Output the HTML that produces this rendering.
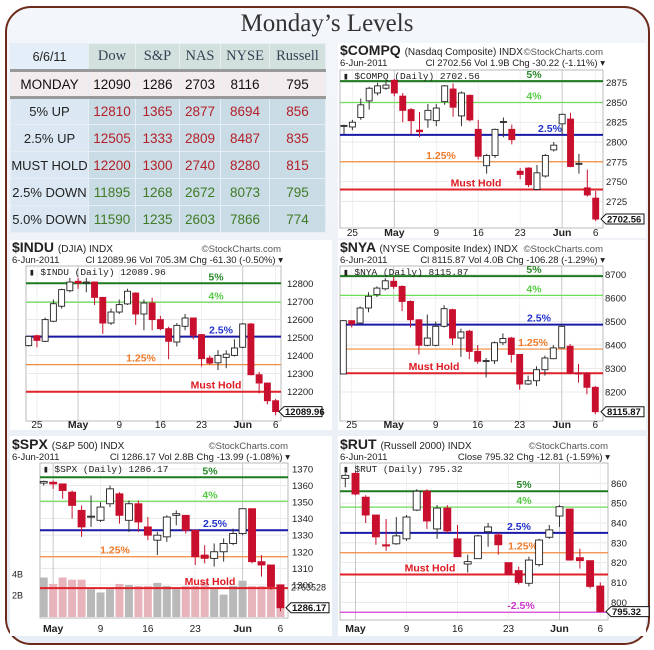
<!DOCTYPE html>
<html><head><meta charset="utf-8">
<style>
*{margin:0;padding:0;box-sizing:border-box}
body{width:654px;height:650px;background:#fff;position:relative;overflow:hidden;font-family:"Liberation Sans",sans-serif}
#frame{position:absolute;left:5px;top:6px;width:645px;height:639px;border:2px solid #6b2a1a;border-radius:26px;background:linear-gradient(#f3f6fa,#e8eef5)}
#title{position:absolute;left:0;top:10px;width:654px;text-align:center;font-family:"Liberation Serif",serif;font-size:25px;color:#333}
table{position:absolute;left:10px;top:43px;border-collapse:collapse;font-size:13.5px;width:316px}
td{text-align:center;border:1px solid #e6eef4;height:27px;padding:0}
.h td{background:#d3e1de;font-family:"Liberation Serif",serif;font-size:14.5px;color:#345}
.h td.c0{background:#e3eef8;font-family:"Liberation Sans",sans-serif;font-size:12.5px;color:#222}
.m td{background:#f3ecef;color:#111;border-top:3px solid #999;border-bottom:3px solid #999}
.r td{background:#c9dbe4}
.r td.c0{background:#dbe8f4;color:#222;font-size:13px}
.up{color:#b3202a}.dn{color:#3f7a25}
svg{position:absolute;left:0;top:0}
</style></head><body>
<div id="frame"></div>
<div id="title">Monday’s Levels</div>
<table>
<tr class="h"><td class="c0" style="width:78px">6/6/11</td><td style="width:47px">Dow</td><td style="width:44px">S&amp;P</td><td style="width:41px">NAS</td><td style="width:49px">NYSE</td><td>Russell</td></tr>
<tr class="m"><td>MONDAY</td><td>12090</td><td>1286</td><td>2703</td><td>8116</td><td>795</td></tr>
<tr class="r"><td class="c0">5% UP</td><td class="up">12810</td><td class="up">1365</td><td class="up">2877</td><td class="up">8694</td><td class="up">856</td></tr>
<tr class="r"><td class="c0">2.5% UP</td><td class="up">12505</td><td class="up">1333</td><td class="up">2809</td><td class="up">8487</td><td class="up">835</td></tr>
<tr class="r"><td class="c0">MUST HOLD</td><td class="up">12200</td><td class="up">1300</td><td class="up">2740</td><td class="up">8280</td><td class="up">815</td></tr>
<tr class="r"><td class="c0">2.5% DOWN</td><td class="dn">11895</td><td class="dn">1268</td><td class="dn">2672</td><td class="dn">8073</td><td class="dn">795</td></tr>
<tr class="r"><td class="c0">5.0% DOWN</td><td class="dn">11590</td><td class="dn">1235</td><td class="dn">2603</td><td class="dn">7866</td><td class="dn">774</td></tr>
</table>
<svg id="s" width="654" height="650"></svg>
<script>
// ---- COMPQ data ----
const compqOpen =[2820,2819,2831,2852,2862,2868,2878,2858,2841,2815,2828,2827,2851,2867,2833,2859,2816,2770,2783,2825,2816,2763,2767,2740,2757,2790,2823,2829,2773,2742,2729];
const compqHigh =[2822,2828,2855,2870,2875,2876,2880,2862,2843,2838,2848,2848,2872,2874,2864,2860,2828,2785,2817,2831,2822,2767,2768,2771,2785,2800,2836,2837,2785,2765,2738];
const compqLow  =[2810,2815,2828,2841,2859,2866,2858,2825,2810,2806,2818,2820,2847,2832,2820,2826,2778,2760,2780,2806,2797,2753,2743,2739,2755,2788,2810,2768,2760,2731,2700];
const compqClose=[2821,2825,2847,2868,2871,2872,2862,2840,2827,2813,2840,2843,2871,2844,2862,2828,2782,2783,2816,2826,2803,2759,2746,2761,2783,2796,2835,2769,2773,2733,2702.56];
const compqLevels=[2877,2850,2809,2775,2740];
const compqTicks=[2725,2750,2775,2800,2825,2850,2875];
const compqXLabels=["25","May","9","16","23","Jun","6"];
const compqXIdx=[1,6,11,16,21,26,30];
// ---- INDU data ----
const induOpen =[12455,12510,12479,12590,12673,12759,12811,12805,12807,12722,12580,12641,12686,12746,12630,12691,12599,12549,12475,12562,12608,12516,12386,12360,12390,12401,12446,12575,12294,12248,12150];
const induHigh =[12510,12515,12610,12710,12770,12830,12830,12830,12810,12725,12660,12710,12770,12750,12710,12720,12620,12560,12580,12630,12610,12520,12400,12430,12430,12490,12580,12580,12310,12250,12160];
const induLow  =[12450,12446,12475,12585,12660,12750,12770,12750,12680,12520,12570,12630,12680,12570,12540,12540,12540,12380,12450,12540,12490,12340,12350,12320,12330,12395,12440,12290,12190,12130,12070];
const induClose=[12506,12484,12599,12687,12765,12807,12802,12807,12722,12580,12641,12682,12756,12630,12691,12599,12549,12479,12567,12608,12512,12383,12358,12401,12408,12442,12575,12294,12248,12150,12089.96];
const induLevels=[12800,12695,12505,12350,12200];
const induTicks=[12200,12300,12400,12500,12600,12700,12800];
const induXLabels=["25","May","9","16","23","Jun","6"];
const induXIdx=[1,6,11,16,21,26,30];
// ---- NYA data ----
const nyaOpen =[8277,8504,8494,8558,8615,8640,8672,8650,8586,8508,8399,8399,8480,8551,8430,8459,8373,8333,8333,8410,8430,8360,8234,8248,8295,8342,8388,8395,8281,8281,8220];
const nyaHigh =[8506,8506,8565,8625,8650,8685,8690,8655,8590,8510,8530,8500,8570,8555,8470,8465,8400,8345,8415,8450,8435,8360,8270,8310,8355,8400,8490,8405,8320,8285,8225];
const nyaLow  =[8275,8475,8490,8540,8605,8633,8640,8545,8475,8360,8395,8395,8475,8400,8350,8340,8320,8262,8320,8400,8325,8210,8230,8225,8270,8340,8385,8275,8240,8190,8105];
const nyaClose=[8504,8490,8558,8608,8643,8674,8650,8586,8508,8399,8430,8480,8555,8430,8456,8373,8331,8334,8410,8428,8360,8234,8248,8295,8345,8388,8480,8281,8277,8220,8115.87];
const nyaLevels=[8694,8612,8487,8383,8280];
const nyaTicks=[8200,8300,8400,8500,8600,8700];
const nyaXLabels=["25","May","9","16","23","Jun","6"];
const nyaXIdx=[1,6,11,16,21,26,30];
// ---- SPX data ----
const spxOpen =[1361.5,1362,1361,1356,1345,1341,1339,1349,1355,1339,1349,1335,1327,1329,1342,1342,1333,1318,1316,1320,1325,1331,1346,1314,1312,1300];
const spxHigh =[1363,1363,1361,1357,1348,1354,1350,1360,1356,1351,1351,1341,1332,1342,1345,1342,1333,1324,1325,1328,1334,1346,1346,1318,1312,1300];
const spxLow  =[1360,1358,1352,1340,1329,1335,1338,1347,1337,1332,1332,1327,1318,1326,1336,1331,1312,1313,1311,1314,1324,1330,1313,1305,1297,1284];
const spxClose=[1362.5,1361,1357,1348,1335,1341.5,1347,1358,1342,1349,1338,1330,1330,1341,1343,1333,1317,1316,1320,1325,1331,1346,1314,1312,1299,1286.17];
const spxVolume=[3.7,3.1,3.7,3.5,3.5,2.6,2.3,2.6,3.1,3.0,2.9,2.9,3.2,2.9,2.6,2.9,2.9,3.3,2.6,2.1,2.9,3.4,2.9,2.9,2.8,2.76];
const spxLevels=[1365,1350.5,1333,1317,1298];
const spxTicks=[1300,1310,1320,1330,1340,1350,1360,1370];
const spxXLabels=["May","9","16","23","Jun","6"];
const spxXIdx=[1,6,11,16,21,25];
// ---- RUT data ----
const rutOpen =[862.5,865,853,844,829,829.5,832,846.5,856,837,847.5,832,819.3,822,835.6,834,820,816,809.6,819,832.8,843.5,847,822.5,821,808.2];
const rutHigh =[865,866,854,844,842,843,844,857,857,849,849,839,824,834,840,835,820,818,823,832,839,849,847,827,821,810];
const rutLow  =[858,854,840,829,826,829,831,846,837,832,835,823,815,822,828,824,814,809,808,818,832,838,821,817,807,795];
const rutClose=[864,854.6,844,833,828.4,833.5,843,856,841,847.5,836,823,820.5,833.5,838,829,814,810,821.3,831.4,836.5,848.2,821.3,821,808,795.32];
const rutLevels=[856,848,835,825,814,795];
const rutTicks=[800,810,820,830,840,850,860];
const rutXLabels=["May","9","16","23","Jun","6"];
const rutXIdx=[1,6,11,16,21,25];

const NS="http://www.w3.org/2000/svg";
const svg=document.getElementById('s');
function mk(tag,attrs,parent,txt){const e=document.createElementNS(NS,tag);for(const k in attrs)e.setAttribute(k,attrs[k]);if(txt!==undefined)e.textContent=txt;(parent||svg).appendChild(e);return e;}

const LEVEL_NAMES=["5%","4%","2.5%","1.25%","Must Hold","-2.5%"];
const LEVEL_COLORS=["#1f7a1f","#6fdc5a","#1a1aa8","#f08a3c","#e0222a","#d43fd8"];
const LEVEL_TXT=["#2a8a2a","#55cc44","#2233cc","#ee7a2a","#dd1a22","#cc33cc"];

function chart(cfg,O,H,L,C,levels,ticks,xl,xi,vol){
  const g=mk('g',{});
  
  
  // panel bg
  const bg=mk('rect',{x:cfg.px,y:cfg.py,width:cfg.pw,height:cfg.ph,fill:'#fff'},g);
  
  
  const Y=v=>cfg.yA+(cfg.vA-v)*(cfg.yB-cfg.yA)/(cfg.vA-cfg.vB);
  const X=i=>cfg.xF+i*cfg.step;
  const p=cfg.plot;
  // plot frame
  const fr=mk('rect',{x:p[0],y:p[1],width:p[2]-p[0],height:p[3]-p[1],fill:'#fff',stroke:'#aaa','stroke-width':0.8},g);
  
  
  // grid + ticks
  ticks.forEach(t=>{
    const y=Y(t);
    mk('line',{x1:p[0],x2:p[2],y1:y,y2:y,stroke:'#e4e4e4','stroke-width':0.8},g);
    const tl=mk('text',{x:cfg.tickX,y:y+3.5,'font-size':9.5,fill:'#222'},g,String(t));
    
    
  });
  xl.forEach((lab,k)=>{
    const x=X(xi[k]);
    const month=isNaN(+lab);
    mk('line',{x1:x,x2:x,y1:p[1],y2:p[3],stroke:month?'#c8c8c8':'#ececec','stroke-width':month?1:0.8},g);
    const t=mk('text',{x:x,y:cfg.xLabY,'font-size':month?10.5:10,'font-weight':month?'bold':'normal','text-anchor':'middle',fill:'#222'},g,lab);
    
    
  });
  // volume
  if(vol){
    vol.forEach((v,i)=>{
      const h=v*cfg.volPx;
      const b=mk('rect',{x:X(i)-cfg.cw/2-0.5,y:cfg.volBase-h,width:cfg.cw+1,height:h,fill:C[i]>=O[i]?'#b9b9b9':'#e8b4bc'},g);
      
      
    });
    mk('text',{x:cfg.px+2,y:cfg.volBase-4*cfg.volPx+3,'font-size':9,fill:'#222'},g,'4B');
    mk('text',{x:cfg.px+2,y:cfg.volBase-2*cfg.volPx+3,'font-size':9,fill:'#222'},g,'2B');
    const vt=mk('text',{x:p[2]+3,y:cfg.volBase-vol[vol.length-1]*cfg.volPx+3,'font-size':9,fill:'#222'},g,'2763528');
    
    
  }
  // levels
  levels.forEach((v,k)=>{
    const y=Y(v);
    const ln=mk('line',{x1:p[0],x2:p[2],y1:y,y2:y,stroke:LEVEL_COLORS[k],'stroke-width':(k==1||k==3||k==5)?1.2:2},g);
    
    
    const tx=mk('text',{x:cfg.lvX[k],y:y-3,'font-size':10.5,'font-weight':'bold','text-anchor':'middle',fill:LEVEL_TXT[k]},g,LEVEL_NAMES[k]);
    
    
  });
  // candles
  O.forEach((o,i)=>{
    const x=X(i),c=C[i],up=c>=o;
    const w=mk('line',{x1:x,x2:x,y1:Y(H[i]),y2:Y(L[i]),stroke:up?'#333':'#c8102e','stroke-width':1},g);
    
    
    const top=Y(Math.max(o,c)),bot=Y(Math.min(o,c));
    const b=mk('rect',{x:x-cfg.cw/2,y:top,width:cfg.cw,height:Math.max(1,bot-top),fill:up?'#fff':'#c8102e',stroke:up?'#222':'#c8102e','stroke-width':0.9},g);
    
    
  });
  // last price tag
  const lv=C[C.length-1],ly=Y(lv);
  mk('path',{d:`M${p[2]-2},${ly} l5,-5 h38 v10 h-38 z`,fill:'#fff',stroke:'#111','stroke-width':1},g);
  const lt=mk('text',{x:p[2]+4,y:ly+3.5,'font-size':9.5,'font-weight':'bold',fill:'#111'},g,lv.toFixed(2));
  
  
  // headers
  const t1=mk('text',{x:cfg.px+2,y:cfg.ty,'font-size':10,fill:'#222'},g);
  mk('tspan',{'font-size':14,'font-weight':'bold'},t1,cfg.ticker+' ');
  mk('tspan',{},t1,cfg.desc+'  INDX');
  
  
  mk('text',{x:p[2],y:cfg.ty,'font-size':9.5,'text-anchor':'end',fill:'#555'},g,'©StockCharts.com');
  const t2=mk('text',{x:cfg.px+2,y:cfg.ty+11,'font-size':9.5,fill:'#222'},g);
  t2.textContent='6-Jun-2011';
  const t3=mk('text',{x:p[2]+2,y:cfg.ty+11,'font-size':9.5,'text-anchor':'end',fill:'#222'},g,cfg.stats+' ▾');
  
  
  mk('text',{x:p[0]+3,y:p[1]+9,'font-size':9.5,'font-family':'Liberation Mono, monospace',fill:'#222'},g,'▮ '+cfg.ticker+' (Daily) '+lv.toFixed(2));
}

chart({name:'compq',ticker:'$COMPQ',desc:'(Nasdaq Composite)',stats:'Cl 2702.56  Vol 1.9B  Chg -30.22 (-1.11%)',
  px:338,py:43,pw:308,ph:195,plot:[340,70,603,228],yA:82.7,vA:2875,yB:201.3,vB:2725,xF:344,step:8.39,cw:6,
  tickX:606,xLabY:236,ty:55,lvX:[534,534,550,441,476]},
  compqOpen,compqHigh,compqLow,compqClose,compqLevels,compqTicks,compqXLabels,compqXIdx);
chart({name:'indu',ticker:'$INDU',desc:'(DJIA)',stats:'Cl 12089.96  Vol 705.3M  Chg -61.30 (-0.50%)',
  px:10,py:240,pw:322,ph:190,plot:[26,266,281,421],yA:283.3,vA:12800,yB:391.7,vB:12200,xF:28.7,step:8.23,cw:6,
  tickX:287,xLabY:428,ty:252,lvX:[216,216,221,141,216]},
  induOpen,induHigh,induLow,induClose,induLevels,induTicks,induXLabels,induXIdx);
chart({name:'nya',ticker:'$NYA',desc:'(NYSE Composite Index)',stats:'Cl 8115.87  Vol 4.0B  Chg -106.28 (-1.29%)',
  px:338,py:240,pw:308,ph:190,plot:[340,266,603,421],yA:274.7,vA:8700,yB:392,vB:8200,xF:343.3,step:8.4,cw:6,
  tickX:605,xLabY:428,ty:252,lvX:[534,534,539,533,434]},
  nyaOpen,nyaHigh,nyaLow,nyaClose,nyaLevels,nyaTicks,nyaXLabels,nyaXIdx);
chart({name:'spx',ticker:'$SPX',desc:'(S&P 500)',stats:'Cl 1286.17  Vol 2.8B  Chg -13.99 (-1.08%)',
  px:10,py:436,pw:322,ph:200,plot:[40,463,288,618],yA:469,vA:1370,yB:568.3,vB:1310,xF:43.7,step:9.47,cw:7,
  tickX:292,xLabY:632,ty:449,lvX:[210,210,215,115,210],volBase:617,volPx:10.67},
  spxOpen,spxHigh,spxLow,spxClose,spxLevels,spxTicks,spxXLabels,spxXIdx,spxVolume);
chart({name:'rut',ticker:'$RUT',desc:'(Russell 2000)',stats:'Close 795.32  Chg -12.81 (-1.59%)',
  px:338,py:436,pw:308,ph:200,plot:[340,463,608,620],yA:483.3,vA:860,yB:602.3,vB:800,xF:345.3,step:10.2,cw:7,
  tickX:611,xLabY:632,ty:449,lvX:[524,524,519,523,430,521]},
  rutOpen,rutHigh,rutLow,rutClose,rutLevels,rutTicks,rutXLabels,rutXIdx);
</script>
</body></html>
